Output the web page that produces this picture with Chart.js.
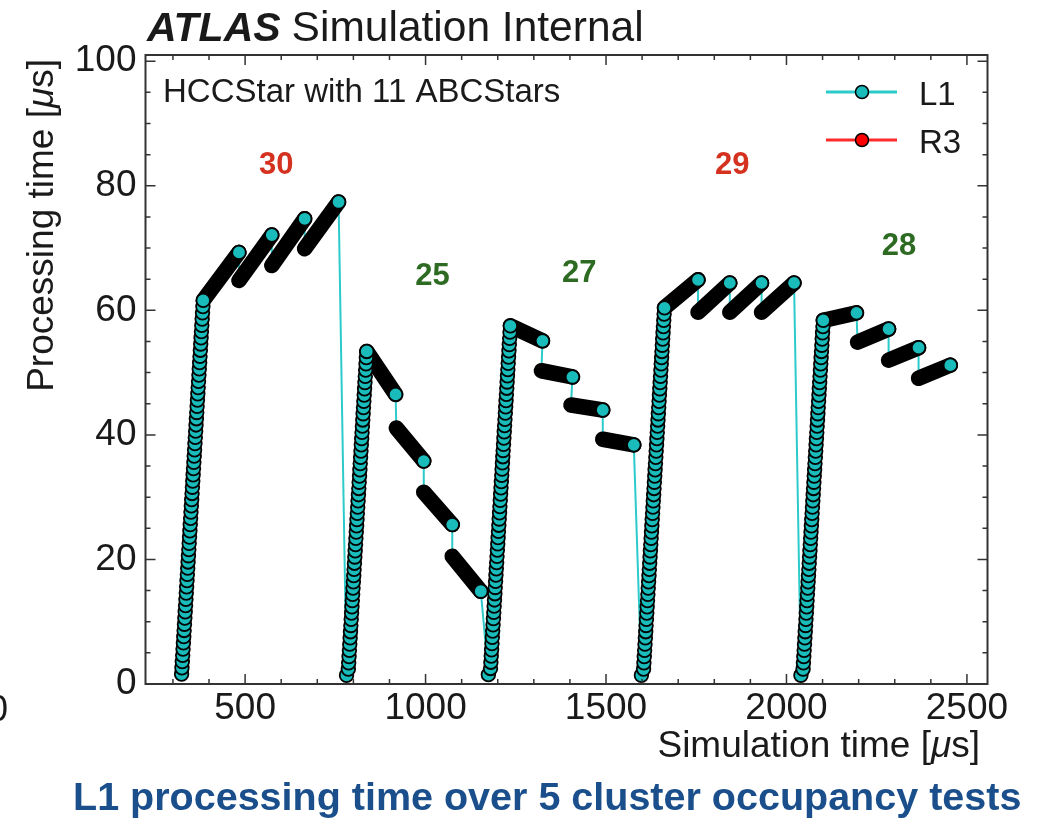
<!DOCTYPE html>
<html>
<head>
<meta charset="utf-8">
<title>L1 processing time</title>
<script src="https://cdn.jsdelivr.net/npm/chart.js@4.4.1/dist/chart.umd.min.js"></script>
<style>
  html, body { margin: 0; padding: 0; background: #fff; }
  #wrap { position: relative; width: 1046px; height: 820px; }
</style>
</head>
<body>
<div id="wrap"><canvas id="chart" width="1046" height="820"></canvas></div>
<script>
// ---- values: simulation time [us] vs processing time [us] ----

// rising edge of each test (one marker per trigger)
const test1RiseX = [324, 325, 326, 327, 328, 329, 330, 331, 332, 333,
  334, 335, 336, 337, 338, 339, 340, 341, 342, 343,
  344, 345, 346, 347, 348, 349, 350, 351, 352, 353,
  354, 355, 356, 357, 358, 359, 360, 361, 362, 363,
  364, 365, 366, 367, 368, 369, 370, 371, 372, 373,
  374, 375, 376, 377, 378, 379, 380, 381, 382, 383, 384];
const test1RiseY = [1.6, 2.6, 3.6, 4.6, 5.6, 6.6, 7.6, 8.6, 9.6, 10.6,
  11.6, 12.6, 13.6, 14.6, 15.6, 16.6, 17.6, 18.6, 19.6, 20.6,
  21.6, 22.6, 23.6, 24.6, 25.6, 26.6, 27.6, 28.6, 29.6, 30.6,
  31.6, 32.6, 33.6, 34.6, 35.6, 36.6, 37.6, 38.6, 39.6, 40.6,
  41.6, 42.6, 43.6, 44.6, 45.6, 46.6, 47.6, 48.6, 49.6, 50.6,
  51.6, 52.6, 53.6, 54.6, 55.6, 56.6, 57.6, 58.6, 59.6, 60.6, 61.6];

const test2RiseX = [781, 786, 787, 788, 789, 790, 791, 792, 793, 794,
  795, 796, 797, 798, 799, 800, 801, 802, 803, 804,
  805, 806, 807, 808, 809, 810, 811, 812, 813, 814,
  815, 816, 817, 818, 819, 820, 821, 822, 823, 824,
  825, 826, 827, 828, 829, 830, 831, 832, 833, 834,
  835, 836, 837];
const test2RiseY = [1.4, 2.4, 3.4, 4.4, 5.4, 6.4, 7.4, 8.4, 9.4, 10.4,
  11.4, 12.4, 13.4, 14.4, 15.4, 16.4, 17.4, 18.4, 19.4, 20.4,
  21.4, 22.4, 23.4, 24.4, 25.4, 26.4, 27.4, 28.4, 29.4, 30.4,
  31.4, 32.4, 33.4, 34.4, 35.4, 36.4, 37.4, 38.4, 39.4, 40.4,
  41.4, 42.4, 43.4, 44.4, 45.4, 46.4, 47.4, 48.4, 49.4, 50.4,
  51.4, 52.4, 53.4];

const test3RiseX = [1174, 1180, 1181, 1182, 1183, 1184, 1185, 1186, 1187, 1188,
  1189, 1190, 1191, 1192, 1193, 1194, 1195, 1196, 1197, 1198,
  1199, 1200, 1201, 1202, 1203, 1204, 1205, 1206, 1207, 1208,
  1209, 1210, 1211, 1212, 1213, 1214, 1215, 1216, 1217, 1218,
  1219, 1220, 1221, 1222, 1223, 1224, 1225, 1226, 1227, 1228,
  1229, 1230, 1231, 1232, 1233, 1234, 1235];
const test3RiseY = [1.5, 2.5, 3.5, 4.5, 5.5, 6.5, 7.5, 8.5, 9.5, 10.5,
  11.5, 12.5, 13.5, 14.5, 15.5, 16.5, 17.5, 18.5, 19.5, 20.5,
  21.5, 22.5, 23.5, 24.5, 25.5, 26.5, 27.5, 28.5, 29.5, 30.5,
  31.5, 32.5, 33.5, 34.5, 35.5, 36.5, 37.5, 38.5, 39.5, 40.5,
  41.5, 42.5, 43.5, 44.5, 45.5, 46.5, 47.5, 48.5, 49.5, 50.5,
  51.5, 52.5, 53.5, 54.5, 55.5, 56.5, 57.5];

const test4RiseX = [1598, 1604, 1605, 1606, 1607, 1608, 1609, 1610, 1611, 1612,
  1613, 1614, 1615, 1616, 1617, 1618, 1619, 1620, 1621, 1622,
  1623, 1624, 1625, 1626, 1627, 1628, 1629, 1630, 1631, 1632,
  1633, 1634, 1635, 1636, 1637, 1638, 1639, 1640, 1641, 1642,
  1643, 1644, 1645, 1646, 1647, 1648, 1649, 1650, 1651, 1652,
  1653, 1654, 1655, 1656, 1657, 1658, 1659, 1660, 1661, 1662];
const test4RiseY = [1.4, 2.4, 3.4, 4.4, 5.4, 6.4, 7.4, 8.4, 9.4, 10.4,
  11.4, 12.4, 13.4, 14.4, 15.4, 16.4, 17.4, 18.4, 19.4, 20.4,
  21.4, 22.4, 23.4, 24.4, 25.4, 26.4, 27.4, 28.4, 29.4, 30.4,
  31.4, 32.4, 33.4, 34.4, 35.4, 36.4, 37.4, 38.4, 39.4, 40.4,
  41.4, 42.4, 43.4, 44.4, 45.4, 46.4, 47.4, 48.4, 49.4, 50.4,
  51.4, 52.4, 53.4, 54.4, 55.4, 56.4, 57.4, 58.4, 59.4, 60.4];

const test5RiseX = [2040, 2046, 2047, 2048, 2049, 2050, 2051, 2052, 2053, 2054,
  2055, 2056, 2057, 2058, 2059, 2060, 2061, 2062, 2063, 2064,
  2065, 2066, 2067, 2068, 2069, 2070, 2071, 2072, 2073, 2074,
  2075, 2076, 2077, 2078, 2079, 2080, 2081, 2082, 2083, 2084,
  2085, 2086, 2087, 2088, 2089, 2090, 2091, 2092, 2093, 2094,
  2095, 2096, 2097, 2098, 2099, 2100, 2101, 2102];
const test5RiseY = [1.4, 2.4, 3.4, 4.4, 5.4, 6.4, 7.4, 8.4, 9.4, 10.4,
  11.4, 12.4, 13.4, 14.4, 15.4, 16.4, 17.4, 18.4, 19.4, 20.4,
  21.4, 22.4, 23.4, 24.4, 25.4, 26.4, 27.4, 28.4, 29.4, 30.4,
  31.4, 32.4, 33.4, 34.4, 35.4, 36.4, 37.4, 38.4, 39.4, 40.4,
  41.4, 42.4, 43.4, 44.4, 45.4, 46.4, 47.4, 48.4, 49.4, 50.4,
  51.4, 52.4, 53.4, 54.4, 55.4, 56.4, 57.4, 58.4];

// saturated part: dense runs of triggers, [start x, start y, end x, end y]
const test1Steps = [[384, 61.6, 483, 69.3], [483, 64.8, 574, 72.1], [574, 67.2, 665, 74.7], [665, 69.9, 759, 77.4]];
const test2Steps = [[837, 53.4, 917, 46.5], [919, 41.1, 995, 35.8], [995, 30.8, 1074, 25.6], [1074, 20.5, 1153, 14.9]];
const test3Steps = [[1235, 57.5, 1324, 55.1], [1321, 50.3, 1407, 49.3], [1403, 44.8, 1491, 44.0], [1491, 39.3, 1577, 38.4]];
const test4Steps = [[1662, 60.4, 1755, 64.9], [1755, 59.7, 1843, 64.4], [1843, 59.7, 1931, 64.4], [1931, 59.7, 2021, 64.4]];
const test5Steps = [[2102, 58.4, 2194, 59.6], [2197, 54.9, 2283, 57.0], [2283, 52.0, 2366, 54.0], [2366, 49.1, 2454, 51.2]];

// R3 has no entries in this plot, only a legend line
const r3Data = [];

// cluster occupancy of each test
const testNames = ['30', '25', '27', '29', '28'];

const xTicks = [500, 1000, 1500, 2000, 2500];
const yTicks = [0, 20, 40, 60, 80, 100];

// ---- styling / annotation placement ----
const FONT = '"Liberation Sans", Arial, Helvetica, sans-serif';
const CYAN = '#19bbbb';
const CYAN_LINE = '#2ccaca';
const TEXT = '#1a1a1a';
const MARKER_R = 6.8;
const testLabelAt = [[586, 83.2], [1019, 65.4], [1426, 66.0], [1850, 83.2], [2312, 70.3]];
const testLabelColors = ['#d4311f', '#2d6b22', '#2d6b22', '#d4311f', '#2d6b22'];

const tests = [
  { riseX: test1RiseX, riseY: test1RiseY, steps: test1Steps },
  { riseX: test2RiseX, riseY: test2RiseY, steps: test2Steps },
  { riseX: test3RiseX, riseY: test3RiseY, steps: test3Steps },
  { riseX: test4RiseX, riseY: test4RiseY, steps: test4Steps },
  { riseX: test5RiseX, riseY: test5RiseY, steps: test5Steps },
];

const trace = [];
const markers = [];
const dense = [];
tests.forEach((t) => {
  t.riseX.forEach((xv, i) => {
    trace.push({ x: xv, y: t.riseY[i] });
    markers.push({ x: xv, y: t.riseY[i] });
  });
  t.steps.forEach(([xs, ys, xe, ye]) => {
    trace.push({ x: xs, y: ys }, { x: xe, y: ye });
    dense.push({ x: xs, y: ys }, { x: xe, y: ye }, { x: xe, y: null });
    markers.push({ x: xe, y: ye });
  });
});

// text made of pieces with different font styles (for the italic mu)
function richWidth(ctx, parts) {
  return parts.reduce((w, [txt, f]) => { ctx.font = f; return w + ctx.measureText(txt).width; }, 0);
}
function drawRich(ctx, parts, x, y) {
  let cx = x;
  parts.forEach(([txt, f]) => {
    ctx.font = f;
    ctx.fillText(txt, cx, y);
    cx += ctx.measureText(txt).width;
  });
}

const atlasDecor = {
  id: 'atlasDecor',
  afterDatasetsDraw(chart) {
    const { ctx, scales: { x, y } } = chart;
    ctx.save();
    ctx.font = `bold 31px ${FONT}`;
    ctx.textAlign = 'center';
    ctx.textBaseline = 'middle';
    testNames.forEach((name, i) => {
      ctx.fillStyle = testLabelColors[i];
      ctx.fillText(name, x.getPixelForValue(testLabelAt[i][0]), y.getPixelForValue(testLabelAt[i][1]));
    });
    ctx.restore();
  },
  afterDraw(chart) {
    const { ctx, chartArea: a, scales: { x, y } } = chart;
    ctx.save();

    // frame with inward ticks on all four sides
    ctx.strokeStyle = '#333';
    ctx.lineWidth = 1.5;
    ctx.beginPath();
    for (let v = 300; v <= 2500; v += 100) {
      const px = x.getPixelForValue(v);
      const len = v % 500 === 0 ? 10 : 5;
      ctx.moveTo(px, a.bottom); ctx.lineTo(px, a.bottom - len);
      ctx.moveTo(px, a.top); ctx.lineTo(px, a.top + len);
    }
    for (let v = 0; v <= 100; v += 5) {
      const py = y.getPixelForValue(v);
      const len = v % 20 === 0 ? 10 : 5;
      ctx.moveTo(a.left, py); ctx.lineTo(a.left + len, py);
      ctx.moveTo(a.right, py); ctx.lineTo(a.right - len, py);
    }
    ctx.stroke();
    ctx.lineWidth = 2;
    ctx.strokeRect(a.left, a.top, a.right - a.left, a.bottom - a.top);

    ctx.fillStyle = TEXT;
    ctx.textBaseline = 'alphabetic';
    ctx.textAlign = 'left';

    // header
    ctx.font = `italic bold 41px ${FONT}`;
    ctx.fillText('ATLAS', 147, 41);
    const w = ctx.measureText('ATLAS').width;
    ctx.font = `42.5px ${FONT}`;
    ctx.fillText('Simulation Internal', 147 + w + 11, 41);

    // inner label
    ctx.font = `33px ${FONT}`;
    ctx.fillText('HCCStar with 11 ABCStars', 163, 102);

    // legend
    const legend = [['L1', CYAN_LINE, CYAN, 92], ['R3', '#ff2a2a', '#ff0000', 140]];
    legend.forEach(([label, lineColor, fill, ly]) => {
      ctx.strokeStyle = lineColor;
      ctx.lineWidth = 3;
      ctx.beginPath();
      ctx.moveTo(826, ly); ctx.lineTo(897, ly);
      ctx.stroke();
      ctx.beginPath();
      ctx.arc(862, ly, 6.5, 0, Math.PI * 2);
      ctx.fillStyle = fill;
      ctx.fill();
      ctx.lineWidth = 1.5;
      ctx.strokeStyle = '#000';
      ctx.stroke();
      ctx.fillStyle = TEXT;
      ctx.font = `33px ${FONT}`;
      ctx.fillText(label, 919, ly + 13);
    });

    // axis titles
    const xTitle = [['Simulation time [', `37px ${FONT}`], ['\u03bc', `italic 37px ${FONT}`], ['s]', `37px ${FONT}`]];
    drawRich(ctx, xTitle, 980 - richWidth(ctx, xTitle), 757);

    const yTitle = [['Processing time [', `37px ${FONT}`], ['\u03bc', `italic 37px ${FONT}`], ['s]', `37px ${FONT}`]];
    ctx.save();
    ctx.translate(53, 59);
    ctx.rotate(-Math.PI / 2);
    drawRich(ctx, yTitle, -richWidth(ctx, yTitle), 0);
    ctx.restore();

    // stray glyph cut off at the left edge of the original figure
    ctx.font = `36px ${FONT}`;
    ctx.textAlign = 'right';
    ctx.textBaseline = 'middle';
    ctx.fillText('0', 8, 711);

    // caption
    ctx.textAlign = 'left';
    ctx.textBaseline = 'alphabetic';
    ctx.fillStyle = '#1b4f8c';
    ctx.font = `bold 39.5px ${FONT}`;
    ctx.fillText('L1 processing time over 5 cluster occupancy tests', 73, 810);

    ctx.restore();
  },
};

Chart.defaults.font.family = FONT;

new Chart(document.getElementById('chart'), {
  type: 'line',
  data: {
    datasets: [
      {
        label: 'L1',
        data: markers,
        showLine: false,
        pointRadius: MARKER_R,
        pointBackgroundColor: CYAN,
        pointBorderColor: '#000',
        pointBorderWidth: 1.8,
        order: 0,
      },
      {
        label: 'L1 dense',
        data: dense,
        borderColor: '#000',
        borderWidth: 2 * MARKER_R + 2,
        borderCapStyle: 'round',
        borderJoinStyle: 'round',
        pointRadius: 0,
        spanGaps: false,
        order: 1,
      },
      {
        label: 'L1 trace',
        data: trace,
        borderColor: CYAN_LINE,
        borderWidth: 2,
        pointRadius: 0,
        order: 2,
      },
      {
        label: 'R3',
        data: r3Data,
        borderColor: '#ff2a2a',
        pointBackgroundColor: '#ff0000',
        order: 3,
      },
    ],
  },
  plugins: [atlasDecor],
  options: {
    responsive: false,
    animation: false,
    events: [],
    layout: { padding: { top: 55, right: 58.5, bottom: 0, left: 0 } },
    plugins: {
      legend: { display: false },
      tooltip: { enabled: false },
    },
    scales: {
      x: {
        type: 'linear',
        min: 224,
        max: 2557,
        grid: { display: false, drawTicks: false },
        border: { display: false },
        afterBuildTicks: (axis) => { axis.ticks = xTicks.map((v) => ({ value: v })); },
        afterFit: (axis) => { axis.height = 136; },
        ticks: {
          color: TEXT,
          font: { size: 37 },
          padding: 3,
          maxRotation: 0,
          autoSkip: false,
          callback: (v) => String(v),
        },
      },
      y: {
        type: 'linear',
        min: 0,
        max: 101,
        grid: { display: false, drawTicks: false },
        border: { display: false },
        afterBuildTicks: (axis) => { axis.ticks = yTicks.map((v) => ({ value: v })); },
        afterFit: (axis) => { axis.width = 145.5; },
        ticks: {
          color: TEXT,
          font: { size: 37 },
          padding: 9,
          autoSkip: false,
          callback: (v) => String(v),
        },
      },
    },
  },
});
</script>
</body>
</html>
